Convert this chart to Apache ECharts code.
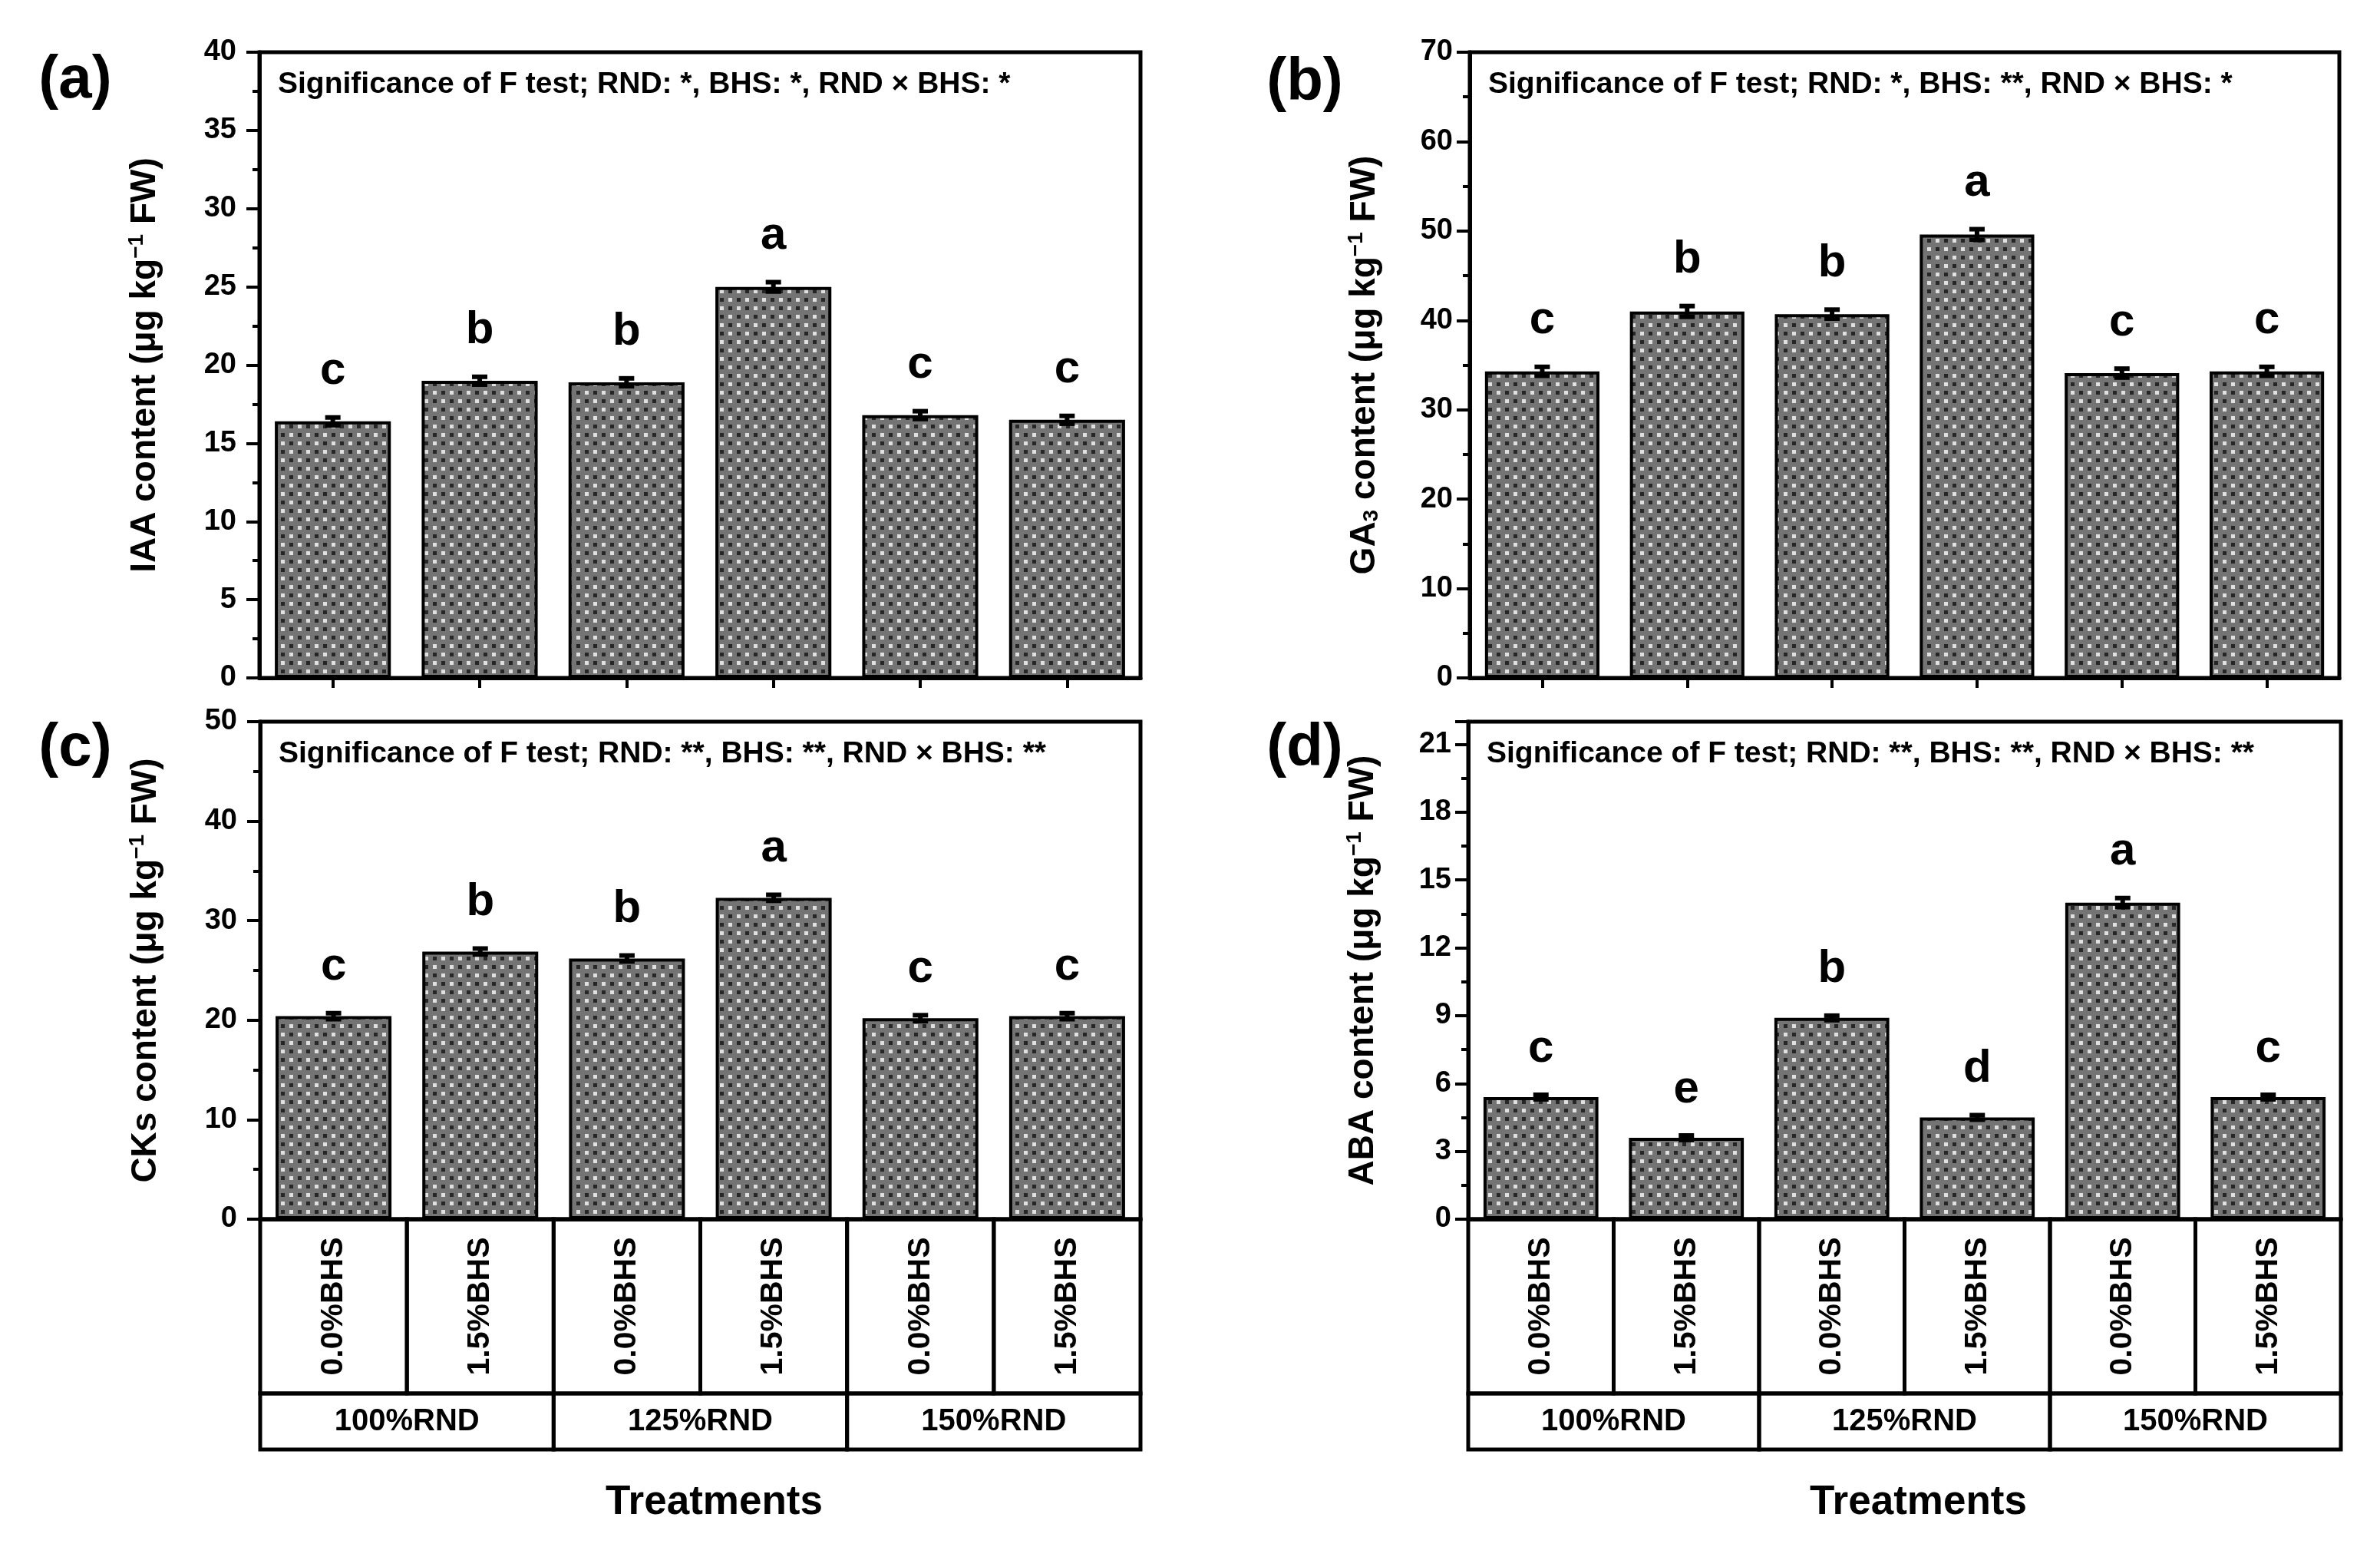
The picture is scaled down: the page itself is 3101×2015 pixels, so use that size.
<!DOCTYPE html>
<html><head><meta charset="utf-8">
<script src="https://cdn.jsdelivr.net/npm/echarts/dist/echarts.min.js"></script>
<style>html,body{margin:0;padding:0;background:#fff}#c{width:3101px;height:2015px}</style>
</head><body><div id="c"></div>
<script>
// ---------- data ----------
const categories = ['0.0%BHS', '1.5%BHS', '0.0%BHS', '1.5%BHS', '0.0%BHS', '1.5%BHS'];
const groups = ['100%RND', '125%RND', '150%RND'];

const iaaValues  = [16.4, 19.0, 18.9, 25.0, 16.8, 16.5];
const iaaErrors  = [0.25, 0.25, 0.25, 0.3, 0.25, 0.25];
const iaaLetters = ['c', 'b', 'b', 'a', 'c', 'c'];

const ga3Values  = [34.3, 41.0, 40.7, 49.6, 34.1, 34.3];
const ga3Errors  = [0.5, 0.6, 0.5, 0.6, 0.5, 0.5];
const ga3Letters = ['c', 'b', 'b', 'a', 'c', 'c'];

const ckValues   = [20.4, 26.9, 26.2, 32.3, 20.2, 20.4];
const ckErrors   = [0.3, 0.3, 0.3, 0.3, 0.3, 0.3];
const ckLetters  = ['c', 'b', 'b', 'a', 'c', 'c'];

const abaValues  = [5.4, 3.6, 8.9, 4.5, 14.0, 5.4];
const abaErrors  = [0.1, 0.1, 0.1, 0.1, 0.2, 0.1];
const abaLetters = ['c', 'e', 'b', 'd', 'a', 'c'];

const yMax      = [40, 70, 50, 22];
const yInterval = [5, 10, 10, 3];

const sigTexts = [
  'Significance of F test; RND: *, BHS: *, RND \u00d7 BHS: *',
  'Significance of F test; RND: *, BHS: **, RND \u00d7 BHS: *',
  'Significance of F test; RND: **, BHS: **, RND \u00d7 BHS: **',
  'Significance of F test; RND: **, BHS: **, RND \u00d7 BHS: **'
];
const panelLabels = ['(a)', '(b)', '(c)', '(d)'];
const yTitles = [
  'IAA content (\u03bcg kg{sup|\u22121} FW)',
  'GA{sub|3} content (\u03bcg kg{sup|\u22121} FW)',
  'CKs content (\u03bcg kg{sup|\u22121} FW)',
  'ABA content (\u03bcg kg{sup|\u22121} FW)'
];
const xTitle = 'Treatments';

// ---------- layout ----------
const FONT = '"Liberation Sans", Arial, Helvetica, sans-serif';
const grids = [
  {left: 338,  top: 68,  width: 1148, height: 815},
  {left: 1915, top: 68,  width: 1133, height: 815},
  {left: 339,  top: 940, width: 1147, height: 648},
  {left: 1913, top: 940, width: 1137, height: 648}
];
const labelMargin = [30, 22, 30, 22];

function makePattern() {
  const c = document.createElement('canvas');
  c.width = 22; c.height = 22;
  const g = c.getContext('2d');
  g.fillStyle = '#747474'; g.fillRect(0, 0, 22, 22);
  g.fillStyle = '#262626'; g.fillRect(3, 3, 5, 5); g.fillRect(14, 14, 5, 5);
  g.fillStyle = '#e0e0e0'; g.fillRect(14, 3, 5, 5); g.fillRect(3, 14, 5, 5);
  return c;
}
const pattern = {image: makePattern(), repeat: 'repeat'};

const valueSets  = [iaaValues, ga3Values, ckValues, abaValues];
const errorSets  = [iaaErrors, ga3Errors, ckErrors, abaErrors];
const letterSets = [iaaLetters, ga3Letters, ckLetters, abaLetters];

const chart = echarts.init(document.getElementById('c'), null, {renderer: 'canvas'});

const gridOpt = grids.map(g => Object.assign({
  show: true, borderColor: '#000', borderWidth: 5, backgroundColor: 'transparent',
  containLabel: false, outerBoundsMode: 'none'
}, g));

const xAxes = grids.map((g, gi) => ({
  type: 'category', gridIndex: gi, data: categories,
  axisLine: {show: true, lineStyle: {color: '#000', width: 5}},
  axisTick: {show: gi < 2, alignWithLabel: true, length: 13, lineStyle: {color: '#000', width: 4}},
  axisLabel: {show: false},
  splitLine: {show: false}
}));

const yAxes = grids.map((g, gi) => ({
  type: 'value', gridIndex: gi, min: 0, max: yMax[gi], interval: yInterval[gi],
  axisLine: {show: true, lineStyle: {color: '#000', width: 5}},
  axisTick: {show: true, inside: false, length: 17, lineStyle: {color: '#000', width: 4}},
  minorTick: {show: true, splitNumber: 2, length: 9, lineStyle: {color: '#000', width: 4}},
  splitLine: {show: false},
  minorSplitLine: {show: false},
  axisLabel: {
    color: '#000', fontSize: 38, fontWeight: 'bold', fontFamily: FONT, margin: labelMargin[gi],
    formatter: v => (Math.abs(v / yInterval[gi] - Math.round(v / yInterval[gi])) < 1e-9 ? String(v) : '')
  },
  name: yTitles[gi], nameLocation: 'middle', nameRotate: 90, nameGap: gi % 2 === 0 ? 124 : 112,
  nameTextStyle: {
    color: '#000', fontSize: 46, fontWeight: 'bold', fontFamily: FONT,
    rich: {
      sup: {color: '#000', fontSize: 28, fontWeight: 'bold', fontFamily: FONT, verticalAlign: 'bottom', padding: [0, 0, 22, 0]},
      sub: {color: '#000', fontSize: 28, fontWeight: 'bold', fontFamily: FONT, verticalAlign: 'top', padding: [20, 0, 0, 0]}
    }
  }
}));

const series = [];
grids.forEach((g, gi) => {
  const vals = valueSets[gi], errs = errorSets[gi], lets = letterSets[gi];
  series.push({
    type: 'bar', xAxisIndex: gi, yAxisIndex: gi, data: vals, barWidth: '79%',
    itemStyle: {color: pattern, borderColor: '#000', borderWidth: 4},
    emphasis: {disabled: true}, z: 2
  });
  series.push({
    type: 'custom', xAxisIndex: gi, yAxisIndex: gi, clip: false, z: 5, silent: true,
    data: vals.map((v, i) => [i, v, errs[i]]),
    renderItem: function (params, api) {
      const i = api.value(0), v = api.value(1), e = api.value(2);
      const top = api.coord([i, v + e]), bot = api.coord([i, v - e]);
      const hw = 10;
      const ls = {stroke: '#000', lineWidth: 6};
      return {type: 'group', children: [
        {type: 'line', shape: {x1: top[0], y1: top[1], x2: bot[0], y2: bot[1]}, style: ls},
        {type: 'line', shape: {x1: top[0] - hw, y1: top[1], x2: top[0] + hw, y2: top[1]}, style: ls},
        {type: 'line', shape: {x1: bot[0] - hw, y1: bot[1], x2: bot[0] + hw, y2: bot[1]}, style: ls},
        {type: 'text', x: top[0], y: top[1] - 30, style: {
          text: lets[params.dataIndex], fill: '#000', font: 'bold 60px ' + FONT,
          align: 'center', verticalAlign: 'bottom'}}
      ]};
    }
  });
  if (gi >= 2) {
    series.push({
      type: 'custom', xAxisIndex: gi, yAxisIndex: gi, clip: false, z: 4, silent: true,
      data: categories.map((c, i) => [i, 0]),
      renderItem: function (params, api) {
        const i = params.dataIndex;
        const p = api.coord([i, 0]);
        const w = api.size([1, 0])[0];
        const x0 = p[0] - w / 2, y0 = p[1];
        const r1 = 227, r2 = 73;
        const st = {fill: 'none', stroke: '#000', lineWidth: 5};
        const ch = [
          {type: 'rect', shape: {x: x0, y: y0, width: w, height: r1}, style: st},
          {type: 'text', x: p[0], y: y0 + r1 / 2, rotation: Math.PI / 2, style: {
            text: categories[i], fill: '#000', font: 'bold 41px ' + FONT, align: 'center', verticalAlign: 'middle'}}
        ];
        if (i % 2 === 0) {
          ch.push({type: 'rect', shape: {x: x0, y: y0 + r1, width: 2 * w, height: r2}, style: st});
          ch.push({type: 'text', x: x0 + w, y: y0 + r1 + r2 / 2, style: {
            text: groups[i / 2], fill: '#000', font: 'bold 40px ' + FONT, align: 'center', verticalAlign: 'middle'}});
        }
        return {type: 'group', children: ch};
      }
    });
  }
});

const graphics = [];
const panelPos = [[98, 105], [1700, 108], [98, 975], [1700, 975]];
grids.forEach((g, gi) => {
  graphics.push({type: 'text', x: panelPos[gi][0], y: panelPos[gi][1], style: {
    text: panelLabels[gi], fill: '#000', font: 'bold 78px ' + FONT,
    align: 'center', verticalAlign: 'middle', textAlign: 'center', textVerticalAlign: 'middle'}});
  graphics.push({type: 'text', x: g.left + 24, y: g.top + 42, style: {
    text: sigTexts[gi], fill: '#000', font: 'bold 39px ' + FONT,
    align: 'left', verticalAlign: 'middle', textAlign: 'left', textVerticalAlign: 'middle'}});
  if (gi >= 2) {
    graphics.push({type: 'text', x: g.left + g.width / 2 + 18, y: 1957, style: {
      text: xTitle, fill: '#000', font: 'bold 53px ' + FONT,
      align: 'center', verticalAlign: 'middle', textAlign: 'center', textVerticalAlign: 'middle'}});
  }
});

chart.setOption({
  backgroundColor: '#fff',
  animation: false,
  grid: gridOpt,
  xAxis: xAxes,
  yAxis: yAxes,
  series: series,
  graphic: graphics
});
</script>
</body></html>
